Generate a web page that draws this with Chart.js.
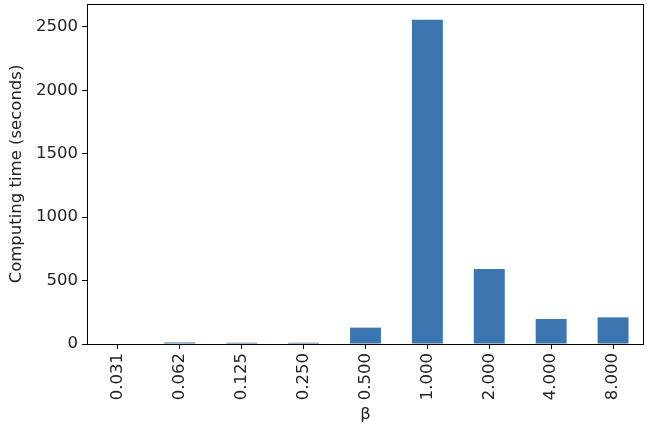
<!DOCTYPE html>
<html>
<head>
<meta charset="utf-8">
<script src="https://cdn.jsdelivr.net/npm/chart.js@4"></script>
<style>
  html, body { margin: 0; padding: 0; background: #fff; }
  #wrap { width: 656px; height: 435px; }
</style>
</head>
<body>
<div id="wrap"><canvas id="timechart"></canvas></div>
<script>
// Data block
const betaLabels = ['0.031', '0.062', '0.125', '0.250', '0.500', '1.000', '2.000', '4.000', '8.000'];
const computeSeconds = [0, 12, 10, 10, 129, 2555, 591, 197, 210];
const yTickValues = [0, 500, 1000, 1500, 2000, 2500];

// Frame plugin: draws the box around the plot area
const plotFrame = {
    id: 'plotFrame',
    afterDraw(chart) {
        const a = chart.chartArea;
        const ctx = chart.ctx;
        ctx.save();
        ctx.strokeStyle = '#000';
        ctx.lineWidth = 1;
        ctx.strokeRect(a.left + 0.5, a.top + 0.5, a.right - a.left - 1, a.bottom - a.top);
        ctx.restore();
    }
};

const tickFont = { family: 'DejaVu Sans', size: 16.5 };

const timeData = {
    labels: betaLabels,
    datasets: [{
        label: 'Computing time',
        backgroundColor: '#3b76b1',
        data: computeSeconds,
        barPercentage: 0.5,
        categoryPercentage: 1.0
    }]
};

const timeConfig = {
    type: 'bar',
    data: timeData,
    options: {
        responsive: true,
        maintainAspectRatio: false,
        animation: false,
        layout: { padding: { top: 4, right: 12, left: 0, bottom: 0 } },
        plugins: {
            legend: { display: false },
            tooltip: { enabled: false }
        },
        scales: {
            x: {
                grid: { offset: false, drawOnChartArea: false, drawTicks: true, tickLength: 5, color: '#000' },
                border: { display: false },
                ticks: {
                    maxRotation: 90,
                    minRotation: 90,
                    padding: 4,
                    color: '#222',
                    font: tickFont
                },
                title: {
                    display: true,
                    text: 'β',
                    color: '#222',
                    font: tickFont,
                    padding: { top: 2, bottom: 10 }
                },
                afterFit(scale) {
                    scale.height = 91;
                    scale.paddingLeft = 0;
                    scale.paddingRight = 0;
                }
            },
            y: {
                min: 0,
                max: 2680,
                grid: { drawOnChartArea: false, drawTicks: true, tickLength: 5, color: '#000' },
                border: { display: false },
                afterBuildTicks(scale) {
                    scale.ticks = yTickValues.map(v => ({ value: v }));
                },
                ticks: {
                    padding: 4,
                    color: '#222',
                    font: tickFont,
                    callback: (v) => String(v)
                },
                title: {
                    display: true,
                    text: 'Computing time (seconds)',
                    color: '#222',
                    font: tickFont,
                    padding: { top: 7, bottom: 0 }
                },
                afterFit(scale) {
                    scale.width = 87;
                    scale.paddingTop = 0;
                    scale.paddingBottom = 0;
                }
            }
        }
    },
    plugins: [plotFrame]
};

const timeChart = new Chart(document.getElementById('timechart'), timeConfig);
</script>
</body>
</html>
